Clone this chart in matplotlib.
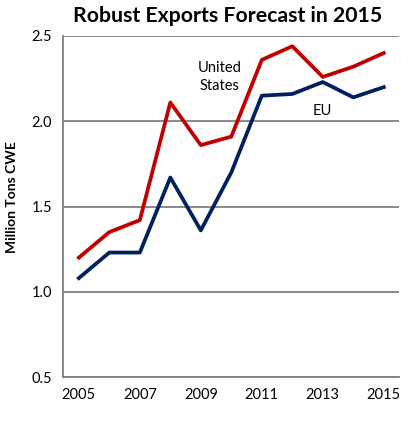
import matplotlib.pyplot as plt

plt.rcParams['font.family'] = ['Lato', 'DejaVu Sans']

years = [2005, 2006, 2007, 2008, 2009, 2010, 2011, 2012, 2013, 2014, 2015]
us = [1.20, 1.35, 1.42, 2.11, 1.86, 1.91, 2.36, 2.44, 2.26, 2.32, 2.40]
eu = [1.08, 1.23, 1.23, 1.67, 1.36, 1.70, 2.15, 2.16, 2.23, 2.14, 2.20]
xticks = [2005, 2007, 2009, 2011, 2013, 2015]
yticks = [0.5, 1.0, 1.5, 2.0, 2.5]

fig = plt.figure(figsize=(4.08, 4.23), dpi=100)
ax = fig.add_axes([0.1544, 0.1087, 0.8236, 0.8062])

ax.plot(years, us, color='#C00000', lw=2.7, zorder=3)
ax.plot(years, eu, color='#002060', lw=2.7, zorder=3)

ax.set_xlim(2004.48, 2015.5)
ax.set_ylim(0.5, 2.5)
ax.set_xticks(xticks)
ax.set_yticks(yticks)
ax.set_yticklabels([f'{v:.1f}' for v in yticks])
ax.tick_params(length=0, labelsize=10.5, colors='black', pad=8)
ax.grid(axis='y', color='#808080', lw=1.3)
ax.set_axisbelow(True)
for s in ['top', 'right']:
    ax.spines[s].set_visible(False)
for s in ['left', 'bottom']:
    ax.spines[s].set_color('#808080')
    ax.spines[s].set_linewidth(1.3)

ax.text(2009.62, 2.26, 'United\nStates', ha='center', va='center', fontsize=10.5, linespacing=1.35)
ax.text(2012.97, 2.06, 'EU', ha='center', va='center', fontsize=10.5)

fig.text(0.557, 0.963, 'Robust Exports Forecast in 2015', ha='center', va='center',
         fontsize=15.3, fontweight='bold')
fig.text(0.03, 0.534, 'Million Tons CWE', rotation=90, ha='center', va='center',
         fontsize=10, fontweight='bold')

fig.savefig('out.png', dpi=100)
